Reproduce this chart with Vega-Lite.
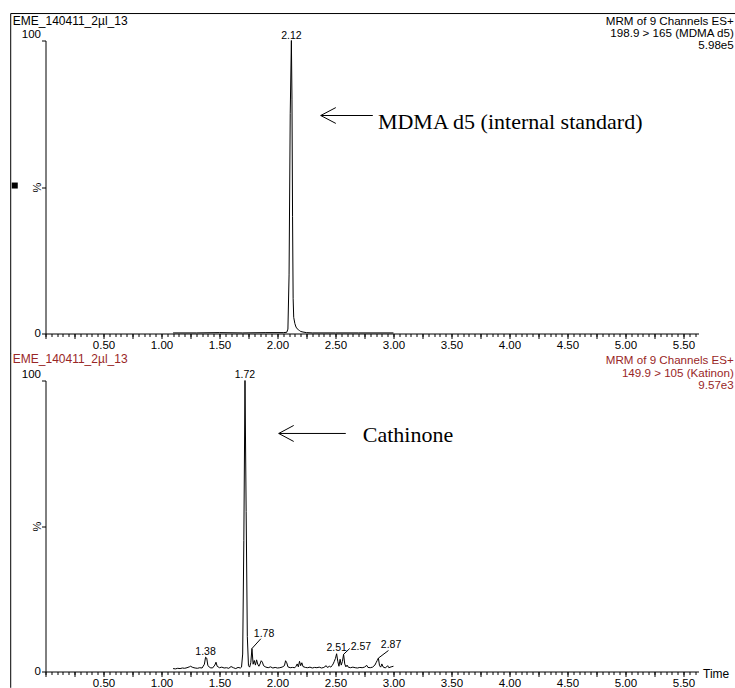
{
  "$schema": "https://vega.github.io/schema/vega-lite/v6.json",
  "padding": {"left": 9.5, "top": 12.5, "right": 0, "bottom": 0},
  "bounds": "flush",
  "spacing": 47,
  "datasets": {
    "top": [
      {"t": 1.10, "v": 0.2}, {"t": 1.30, "v": 0.2}, {"t": 1.50, "v": 0.3}, {"t": 1.70, "v": 0.2},
      {"t": 1.90, "v": 0.3}, {"t": 2.05, "v": 0.3}, {"t": 2.08, "v": 0.4}, {"t": 2.09, "v": 1.5},
      {"t": 2.10, "v": 20}, {"t": 2.11, "v": 75}, {"t": 2.12, "v": 100}, {"t": 2.125, "v": 80},
      {"t": 2.13, "v": 40}, {"t": 2.135, "v": 12}, {"t": 2.14, "v": 5.5}, {"t": 2.15, "v": 3.4},
      {"t": 2.16, "v": 2.2}, {"t": 2.17, "v": 1.6}, {"t": 2.18, "v": 1.3}, {"t": 2.19, "v": 1.0},
      {"t": 2.20, "v": 0.7}, {"t": 2.22, "v": 0.5}, {"t": 2.25, "v": 0.3}, {"t": 2.30, "v": 0.2},
      {"t": 2.50, "v": 0.2}, {"t": 2.70, "v": 0.2}, {"t": 3.00, "v": 0.2}
    ],
    "bottom": [
      {"t": 1.10, "v": 1.0}, {"t": 1.12, "v": 0.9}, {"t": 1.14, "v": 1.1}, {"t": 1.16, "v": 1.0},
      {"t": 1.18, "v": 1.2}, {"t": 1.20, "v": 1.1}, {"t": 1.22, "v": 1.3}, {"t": 1.24, "v": 1.6},
      {"t": 1.25, "v": 1.8}, {"t": 1.27, "v": 1.4}, {"t": 1.29, "v": 1.2}, {"t": 1.31, "v": 1.1},
      {"t": 1.33, "v": 1.3}, {"t": 1.35, "v": 1.2}, {"t": 1.37, "v": 2.5}, {"t": 1.38, "v": 4.9},
      {"t": 1.39, "v": 4.6}, {"t": 1.40, "v": 2.0}, {"t": 1.42, "v": 1.3}, {"t": 1.44, "v": 1.2},
      {"t": 1.46, "v": 2.2}, {"t": 1.47, "v": 3.2}, {"t": 1.48, "v": 1.8}, {"t": 1.50, "v": 1.3},
      {"t": 1.52, "v": 1.5}, {"t": 1.54, "v": 1.2}, {"t": 1.56, "v": 1.3}, {"t": 1.58, "v": 1.1},
      {"t": 1.60, "v": 1.7}, {"t": 1.62, "v": 1.3}, {"t": 1.64, "v": 1.0}, {"t": 1.66, "v": 1.4},
      {"t": 1.68, "v": 1.2}, {"t": 1.69, "v": 1.5}, {"t": 1.70, "v": 6}, {"t": 1.71, "v": 45},
      {"t": 1.72, "v": 100}, {"t": 1.73, "v": 55}, {"t": 1.74, "v": 12}, {"t": 1.75, "v": 2.0},
      {"t": 1.76, "v": 1.5}, {"t": 1.77, "v": 3.0}, {"t": 1.78, "v": 7.9}, {"t": 1.79, "v": 2.5},
      {"t": 1.80, "v": 3.8}, {"t": 1.81, "v": 2.2}, {"t": 1.82, "v": 4.0}, {"t": 1.83, "v": 2.5},
      {"t": 1.84, "v": 1.8}, {"t": 1.85, "v": 2.6}, {"t": 1.86, "v": 3.7}, {"t": 1.87, "v": 3.2},
      {"t": 1.88, "v": 2.0}, {"t": 1.90, "v": 1.5}, {"t": 1.92, "v": 1.3}, {"t": 1.94, "v": 1.6},
      {"t": 1.96, "v": 1.2}, {"t": 1.98, "v": 1.4}, {"t": 2.00, "v": 1.2}, {"t": 2.02, "v": 1.3},
      {"t": 2.04, "v": 1.5}, {"t": 2.06, "v": 2.0}, {"t": 2.07, "v": 3.7}, {"t": 2.08, "v": 3.0},
      {"t": 2.09, "v": 1.6}, {"t": 2.11, "v": 1.3}, {"t": 2.13, "v": 1.4}, {"t": 2.15, "v": 1.3},
      {"t": 2.16, "v": 1.8}, {"t": 2.17, "v": 2.6}, {"t": 2.18, "v": 1.6}, {"t": 2.19, "v": 3.5},
      {"t": 2.20, "v": 2.0}, {"t": 2.21, "v": 3.0}, {"t": 2.22, "v": 1.7}, {"t": 2.24, "v": 1.4},
      {"t": 2.26, "v": 1.3}, {"t": 2.28, "v": 1.5}, {"t": 2.30, "v": 1.2}, {"t": 2.32, "v": 1.4},
      {"t": 2.34, "v": 1.3}, {"t": 2.36, "v": 1.5}, {"t": 2.38, "v": 1.2}, {"t": 2.40, "v": 1.4},
      {"t": 2.42, "v": 2.0}, {"t": 2.43, "v": 1.4}, {"t": 2.45, "v": 1.8}, {"t": 2.46, "v": 1.5},
      {"t": 2.47, "v": 2.0}, {"t": 2.48, "v": 2.6}, {"t": 2.49, "v": 3.5}, {"t": 2.50, "v": 4.5},
      {"t": 2.51, "v": 6.1}, {"t": 2.52, "v": 3.5}, {"t": 2.53, "v": 1.8}, {"t": 2.54, "v": 4.2},
      {"t": 2.55, "v": 2.2}, {"t": 2.56, "v": 3.5}, {"t": 2.57, "v": 5.9}, {"t": 2.58, "v": 2.6},
      {"t": 2.59, "v": 1.6}, {"t": 2.60, "v": 2.2}, {"t": 2.61, "v": 1.5}, {"t": 2.63, "v": 1.3},
      {"t": 2.65, "v": 1.5}, {"t": 2.67, "v": 1.3}, {"t": 2.69, "v": 1.2}, {"t": 2.71, "v": 1.4},
      {"t": 2.73, "v": 1.3}, {"t": 2.75, "v": 1.5}, {"t": 2.77, "v": 2.1}, {"t": 2.78, "v": 1.4},
      {"t": 2.80, "v": 1.3}, {"t": 2.82, "v": 1.5}, {"t": 2.84, "v": 2.2}, {"t": 2.85, "v": 3.0},
      {"t": 2.86, "v": 3.8}, {"t": 2.87, "v": 4.6}, {"t": 2.88, "v": 2.0}, {"t": 2.89, "v": 1.5},
      {"t": 2.90, "v": 2.6}, {"t": 2.91, "v": 1.6}, {"t": 2.93, "v": 1.2}, {"t": 2.95, "v": 2.0},
      {"t": 2.96, "v": 1.3}, {"t": 2.98, "v": 1.6}, {"t": 3.00, "v": 1.8}
    ],
    "toplabels": [{"t": 2.12, "v": 100, "label": "2.12"}],
    "bottomlabels": [
      {"t": 1.72, "v": 100, "label": "1.72"},
      {"t": 1.38, "v": 4.9, "label": "1.38"},
      {"t": 2.51, "v": 6.1, "label": "2.51"}
    ],
    "bottomleaders": [
      {"t": 1.78, "v": 7.9, "et": 1.856, "ev": 11.24, "lt": 1.796, "lv": 11.79, "label": "1.78"},
      {"t": 2.57, "v": 5.9, "et": 2.623, "ev": 7.9, "lt": 2.632, "lv": 7.22, "label": "2.57"},
      {"t": 2.87, "v": 4.6, "et": 2.957, "ev": 7.22, "lt": 2.891, "lv": 8.14, "label": "2.87"}
    ]
  },
  "vconcat": [
    {
      "width": 653,
      "height": 293,
      "resolve": {"axis": {"x": "independent", "y": "independent"}},
      "layer": [
        {
          "data": {"name": "top"},
          "mark": {"type": "line", "color": "black", "strokeWidth": 1},
          "encoding": {
            "x": {
              "field": "t", "type": "quantitative",
              "scale": {"domain": [0, 5.63], "nice": false, "zero": false},
              "axis": {
                "orient": "bottom",
                "title": null,
                "values": [0,0.25,0.5,0.75,1,1.25,1.5,1.75,2,2.25,2.5,2.75,3,3.25,3.5,3.75,4,4.25,4.5,4.75,5,5.25,5.5],
                "labelExpr": "abs(datum.value*2 - round(datum.value*2)) < 0.001 && datum.value > 0.01 ? format(datum.value, '.2f') : ''",
                "tickSize": 5,
                "labelPadding": 0.5,
                "labelOverlap": false,
                "labelFlush": false,
                "labelBound": false
              }
            },
            "y": {
              "field": "v", "type": "quantitative",
              "scale": {"domain": [0, 100], "nice": false, "zero": false},
              "axis": {
                "orient": "left",
                "values": [0, 50, 100],
                "labelExpr": "datum.value == 50 ? '' : datum.label",
                "tickSize": 4,
                "labelPadding": 1,
                "labelFlush": false,
                "labelOverlap": false,
                "labelOffset": {"condition": {"test": "datum.value == 100", "value": -6}, "value": 0},
                "title": "%",
                "titleX": -8,
                "titleY": 146.5,
                "titleAngle": 270,
                "titleAlign": "center",
                "titleBaseline": "middle",
                "titleFontSize": 11,
                "titleFontWeight": "normal"
              }
            }
          }
        },
        {
          "data": {"name": "toplabels"},
          "mark": {"type": "text", "align": "center", "baseline": "alphabetic", "dy": -2, "fontSize": 10.5, "color": "black"},
          "encoding": {
            "x": {
              "field": "t", "type": "quantitative",
              "axis": {
                "orient": "bottom",
                "title": null,
                "values": [0,0.05,0.1,0.15,0.2,0.25,0.3,0.35,0.4,0.45,0.5,0.55,0.6,0.65,0.7,0.75,0.8,0.85,0.9,0.95,1,1.05,1.1,1.15,1.2,1.25,1.3,1.35,1.4,1.45,1.5,1.55,1.6,1.65,1.7,1.75,1.8,1.85,1.9,1.95,2,2.05,2.1,2.15,2.2,2.25,2.3,2.35,2.4,2.45,2.5,2.55,2.6,2.65,2.7,2.75,2.8,2.85,2.9,2.95,3,3.05,3.1,3.15,3.2,3.25,3.3,3.35,3.4,3.45,3.5,3.55,3.6,3.65,3.7,3.75,3.8,3.85,3.9,3.95,4,4.05,4.1,4.15,4.2,4.25,4.3,4.35,4.4,4.45,4.5,4.55,4.6,4.65,4.7,4.75,4.8,4.85,4.9,4.95,5,5.05,5.1,5.15,5.2,5.25,5.3,5.35,5.4,5.45,5.5,5.55,5.6],
                "tickSize": 3,
                "labels": false,
                "domain": false
              }
            },
            "y": {"field": "v", "type": "quantitative", "axis": null},
            "text": {"field": "label"}
          }
        },
        {
          "data": {"values": [{}]},
          "mark": {"type": "text", "align": "left", "baseline": "alphabetic", "fontSize": 12, "color": "black"},
          "encoding": {
            "x": {"datum": -0.282, "axis": null},
            "y": {"datum": 105.3, "axis": null},
            "text": {"value": "EME_140411_2µl_13"}
          }
        },
        {
          "data": {"values": [{}]},
          "mark": {"type": "text", "align": "right", "baseline": "alphabetic", "fontSize": 11.6, "lineHeight": 12.2, "color": "black"},
          "encoding": {
            "x": {"datum": 5.934, "axis": null},
            "y": {"datum": 105.4, "axis": null},
            "text": {"value": ["MRM of 9 Channels ES+", "198.9 > 165 (MDMA d5)", "5.98e5"]}
          }
        },
        {
          "data": {"values": [{}]},
          "mark": {"type": "rule", "color": "black", "strokeWidth": 1},
          "encoding": {"x": {"datum": 2.373, "axis": null}, "x2": {"datum": 2.822}, "y": {"datum": 74.4, "axis": null}}
        },
        {
          "data": {"values": [{}]},
          "mark": {"type": "rule", "color": "black", "strokeWidth": 1},
          "encoding": {"x": {"datum": 2.373, "axis": null}, "x2": {"datum": 2.503}, "y": {"datum": 74.4, "axis": null}, "y2": {"datum": 77.1}}
        },
        {
          "data": {"values": [{}]},
          "mark": {"type": "rule", "color": "black", "strokeWidth": 1},
          "encoding": {"x": {"datum": 2.373, "axis": null}, "x2": {"datum": 2.503}, "y": {"datum": 74.4, "axis": null}, "y2": {"datum": 71.7}}
        },
        {
          "data": {"values": [{}]},
          "mark": {"type": "text", "align": "left", "baseline": "alphabetic", "font": "Liberation Serif", "fontSize": 22, "color": "black"},
          "encoding": {
            "x": {"datum": 2.866, "axis": null},
            "y": {"datum": 69.9, "axis": null},
            "text": {"value": "MDMA d5 (internal standard)"}
          }
        },
        {
          "data": {"values": [{}]},
          "mark": {"type": "square", "size": 36, "filled": true, "color": "black", "opacity": 1},
          "encoding": {"x": {"datum": -0.265, "axis": null}, "y": {"datum": 50.5, "axis": null}}
        },
        {
          "data": {"values": [{}]},
          "mark": {"type": "rule", "color": "black", "strokeWidth": 1},
          "encoding": {"x": {"datum": -0.3, "axis": null}, "x2": {"datum": 5.95}, "y": {"datum": 109.2, "axis": null}}
        },
        {
          "data": {"values": [{}]},
          "mark": {"type": "rule", "color": "black", "strokeWidth": 1},
          "encoding": {"x": {"datum": -0.3, "axis": null}, "y": {"datum": 109.2, "axis": null}, "y2": {"datum": -7}}
        }
      ]
    },
    {
      "width": 653,
      "height": 291,
      "resolve": {"axis": {"x": "independent", "y": "independent"}},
      "layer": [
        {
          "data": {"name": "bottom"},
          "mark": {"type": "line", "color": "black", "strokeWidth": 1},
          "encoding": {
            "x": {
              "field": "t", "type": "quantitative",
              "scale": {"domain": [0, 5.63], "nice": false, "zero": false},
              "axis": {
                "orient": "bottom",
                "title": "Time",
                "titleX": 657,
                "titleY": 1.5,
                "titleAlign": "left",
                "titleBaseline": "middle",
                "titleAngle": 0,
                "titleFontSize": 12,
                "titleFontWeight": "normal",
                "values": [0,0.25,0.5,0.75,1,1.25,1.5,1.75,2,2.25,2.5,2.75,3,3.25,3.5,3.75,4,4.25,4.5,4.75,5,5.25,5.5],
                "labelExpr": "abs(datum.value*2 - round(datum.value*2)) < 0.001 && datum.value > 0.01 ? format(datum.value, '.2f') : ''",
                "tickSize": 5,
                "labelPadding": 0.5,
                "labelOverlap": false,
                "labelFlush": false,
                "labelBound": false
              }
            },
            "y": {
              "field": "v", "type": "quantitative",
              "scale": {"domain": [0, 100], "nice": false, "zero": false},
              "axis": {
                "orient": "left",
                "values": [0, 50, 100],
                "labelExpr": "datum.value == 50 ? '' : datum.label",
                "tickSize": 4,
                "labelPadding": 1,
                "labelFlush": false,
                "labelOverlap": false,
                "labelOffset": {"condition": {"test": "datum.value == 100", "value": -6}, "value": 0},
                "title": "%",
                "titleX": -8,
                "titleY": 145.5,
                "titleAngle": 270,
                "titleAlign": "center",
                "titleBaseline": "middle",
                "titleFontSize": 11,
                "titleFontWeight": "normal"
              }
            }
          }
        },
        {
          "data": {"name": "bottomlabels"},
          "mark": {"type": "text", "align": "center", "baseline": "alphabetic", "dy": -2.5, "fontSize": 10.5, "color": "black"},
          "encoding": {
            "x": {
              "field": "t", "type": "quantitative",
              "axis": {
                "orient": "bottom",
                "title": null,
                "values": [0,0.05,0.1,0.15,0.2,0.25,0.3,0.35,0.4,0.45,0.5,0.55,0.6,0.65,0.7,0.75,0.8,0.85,0.9,0.95,1,1.05,1.1,1.15,1.2,1.25,1.3,1.35,1.4,1.45,1.5,1.55,1.6,1.65,1.7,1.75,1.8,1.85,1.9,1.95,2,2.05,2.1,2.15,2.2,2.25,2.3,2.35,2.4,2.45,2.5,2.55,2.6,2.65,2.7,2.75,2.8,2.85,2.9,2.95,3,3.05,3.1,3.15,3.2,3.25,3.3,3.35,3.4,3.45,3.5,3.55,3.6,3.65,3.7,3.75,3.8,3.85,3.9,3.95,4,4.05,4.1,4.15,4.2,4.25,4.3,4.35,4.4,4.45,4.5,4.55,4.6,4.65,4.7,4.75,4.8,4.85,4.9,4.95,5,5.05,5.1,5.15,5.2,5.25,5.3,5.35,5.4,5.45,5.5,5.55,5.6],
                "tickSize": 3,
                "labels": false,
                "domain": false
              }
            },
            "y": {"field": "v", "type": "quantitative", "axis": null},
            "text": {"field": "label"}
          }
        },
        {
          "data": {"name": "bottomleaders"},
          "mark": {"type": "rule", "color": "black", "strokeWidth": 1},
          "encoding": {
            "x": {"field": "t", "type": "quantitative", "axis": null},
            "y": {"field": "v", "type": "quantitative", "axis": null},
            "x2": {"field": "et"},
            "y2": {"field": "ev"}
          }
        },
        {
          "data": {"name": "bottomleaders"},
          "mark": {"type": "text", "align": "left", "baseline": "alphabetic", "fontSize": 10.5, "color": "black"},
          "encoding": {
            "x": {"field": "lt", "type": "quantitative", "axis": null},
            "y": {"field": "lv", "type": "quantitative", "axis": null},
            "text": {"field": "label"}
          }
        },
        {
          "data": {"values": [{}]},
          "mark": {"type": "text", "align": "left", "baseline": "alphabetic", "fontSize": 12, "color": "#992626"},
          "encoding": {
            "x": {"datum": -0.282, "axis": null},
            "y": {"datum": 106.0, "axis": null},
            "text": {"value": "EME_140411_2µl_13"}
          }
        },
        {
          "data": {"values": [{}]},
          "mark": {"type": "text", "align": "right", "baseline": "alphabetic", "fontSize": 11.6, "lineHeight": 12.2, "color": "#992626"},
          "encoding": {
            "x": {"datum": 5.934, "axis": null},
            "y": {"datum": 105.5, "axis": null},
            "text": {"value": ["MRM of 9 Channels ES+", "149.9 > 105 (Katinon)", "9.57e3"]}
          }
        },
        {
          "data": {"values": [{}]},
          "mark": {"type": "rule", "color": "black", "strokeWidth": 1},
          "encoding": {"x": {"datum": 2.011, "axis": null}, "x2": {"datum": 2.589}, "y": {"datum": 81.8, "axis": null}}
        },
        {
          "data": {"values": [{}]},
          "mark": {"type": "rule", "color": "black", "strokeWidth": 1},
          "encoding": {"x": {"datum": 2.011, "axis": null}, "x2": {"datum": 2.140}, "y": {"datum": 81.8, "axis": null}, "y2": {"datum": 84.55}}
        },
        {
          "data": {"values": [{}]},
          "mark": {"type": "rule", "color": "black", "strokeWidth": 1},
          "encoding": {"x": {"datum": 2.011, "axis": null}, "x2": {"datum": 2.140}, "y": {"datum": 81.8, "axis": null}, "y2": {"datum": 79.05}}
        },
        {
          "data": {"values": [{}]},
          "mark": {"type": "text", "align": "left", "baseline": "alphabetic", "font": "Liberation Serif", "fontSize": 22, "color": "black"},
          "encoding": {
            "x": {"datum": 2.735, "axis": null},
            "y": {"datum": 79.0, "axis": null},
            "text": {"value": "Cathinone"}
          }
        },
        {
          "data": {"values": [{}]},
          "mark": {"type": "rule", "color": "black", "strokeWidth": 1},
          "encoding": {"x": {"datum": -0.3, "axis": null}, "y": {"datum": 109.2, "axis": null}, "y2": {"datum": -5.6}}
        }
      ]
    }
  ],
  "config": {
    "view": {"stroke": null},
    "font": "Liberation Sans",
    "axis": {
      "grid": false,
      "domainColor": "black",
      "domainWidth": 1,
      "tickColor": "black",
      "tickWidth": 1,
      "labelColor": "black",
      "labelFont": "Liberation Sans",
      "labelFontSize": 11.5,
      "titleColor": "black",
      "titleFont": "Liberation Sans"
    },
    "text": {"font": "Liberation Sans"}
  }
}
